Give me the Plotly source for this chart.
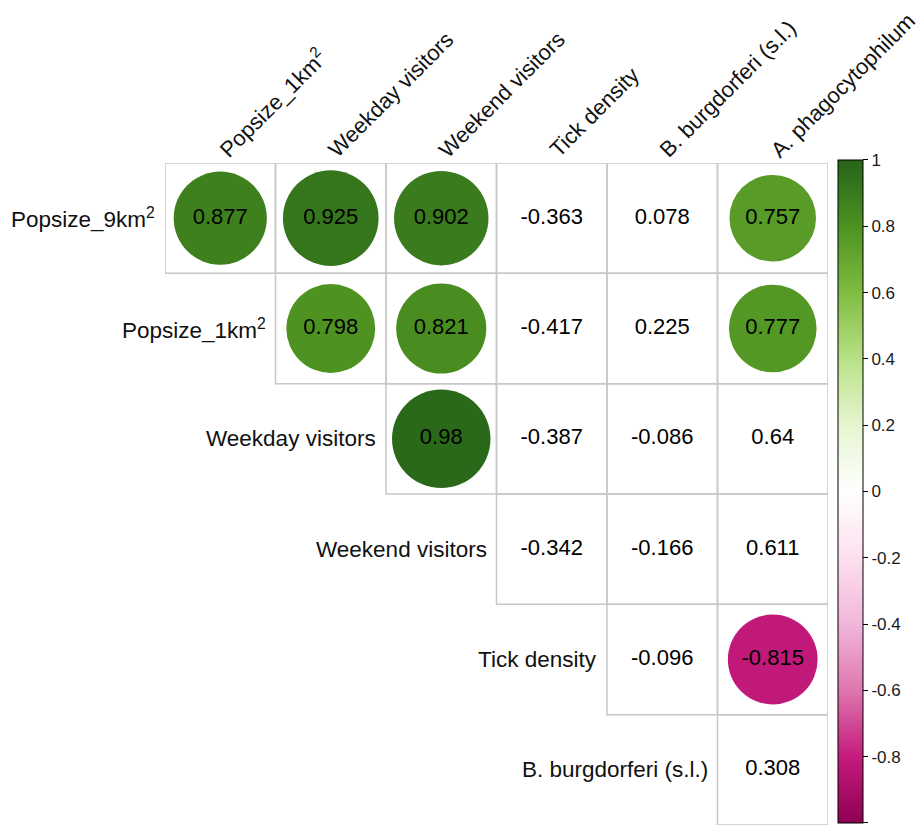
import plotly.graph_objects as go

variables = ["Popsize_9km<sup>2</sup>", "Popsize_1km<sup>2</sup>", "Weekday visitors",
             "Weekend visitors", "Tick density", "B. burgdorferi (s.l.)", "A. phagocytophilum"]
row_labels = variables[:6]
col_labels = variables[1:]

# upper-triangle correlation values (row i, columns i..5)
row0 = [0.877, 0.925, 0.902, -0.363, 0.078, 0.757]
row1 = [0.798, 0.821, -0.417, 0.225, 0.777]
row2 = [0.98, -0.387, -0.086, 0.64]
row3 = [-0.342, -0.166, 0.611]
row4 = [-0.096, -0.815]
row5 = [0.308]
values = [row0, row1, row2, row3, row4, row5]

sig0 = [1, 1, 1, 0, 0, 1]
sig1 = [1, 1, 0, 0, 1]
sig2 = [1, 0, 0, 0]
sig3 = [0, 0, 0]
sig4 = [0, 1]
sig5 = [0]
significant = [sig0, sig1, sig2, sig3, sig4, sig5]

tick_vals = [1, 0.8, 0.6, 0.4, 0.2, 0, -0.2, -0.4, -0.6, -0.8, -1]
tick_text = ["1", "0.8", "0.6", "0.4", "0.2", "0", "-0.2", "-0.4", "-0.6", "-0.8", "-1"]

piyg = [[0.0, "#8E0152"], [0.1, "#C51B7D"], [0.2, "#DE77AE"], [0.3, "#F1B6DA"],
        [0.4, "#FDE0EF"], [0.5, "#FFFFFF"], [0.6, "#E6F5D0"], [0.7, "#B8E186"],
        [0.8, "#7FBC41"], [0.9, "#4D9221"], [1.0, "#276419"]]

W, H = 921, 831
ML, MR, MT, MB = 165, 93, 163, 6
n = 6
cell_px = (W - ML - MR) / n
FONT = "Liberation Sans, Arial, sans-serif"

fig = go.Figure()

shapes = []
cx, cy, cv, ct, sx, sy, sv, ss = [], [], [], [], [], [], [], []
for i, row in enumerate(values):
    for k, v in enumerate(row):
        j = i + k
        shapes.append(dict(type="rect", xref="x", yref="y", x0=j - 0.5, x1=j + 0.5,
                           y0=i - 0.5, y1=i + 0.5, line=dict(color="#C8C8C8", width=1.5),
                           fillcolor="rgba(0,0,0,0)", layer="below"))
        cx.append(j); cy.append(i); cv.append(v); ct.append(f"{v:g}")
        if significant[i][k]:
            sx.append(j); sy.append(i); sv.append(v)
            ss.append(0.9 * abs(v) ** 0.5 * cell_px)

fig.add_trace(go.Scatter(
    x=sx, y=sy, mode="markers", hoverinfo="skip", showlegend=False,
    marker=dict(size=ss, color=sv, colorscale=piyg, cmin=-1, cmax=1, line=dict(width=0),
                opacity=1,
                colorbar=dict(x=1.015, xanchor="left", y=0.5038, yanchor="middle",
                              thickness=25, lenmode="pixels", len=663,
                              outlinecolor="black", outlinewidth=1,
                              tickvals=tick_vals, ticktext=tick_text,
                              ticks="outside", ticklen=5, tickcolor="black",
                              tickfont=dict(family=FONT, size=17, color="#1a1a1a"),
                              xpad=0, ypad=0)),
))
fig.add_trace(go.Scatter(
    x=cx, y=cy, mode="text", text=ct, hoverinfo="skip", showlegend=False,
    textfont=dict(family=FONT, size=22, color="black"),
))

annotations = []
for i, lab in enumerate(row_labels):
    annotations.append(dict(x=i - 0.5, y=i, xref="x", yref="y", text=lab, showarrow=False,
                            xanchor="right", yanchor="middle", xshift=-8,
                            font=dict(family=FONT, size=22.5, color="#111111")))
for j, lab in enumerate(col_labels):
    annotations.append(dict(x=j, y=-0.5, xref="x", yref="y", text=lab, showarrow=False,
                            xanchor="left", yanchor="bottom", textangle=-45,
                            xshift=-10, yshift=-2,
                            font=dict(family=FONT, size=22, color="#111111")))

fig.update_layout(
    width=W, height=H, margin=dict(l=ML, r=MR, t=MT, b=MB),
    paper_bgcolor="white", plot_bgcolor="white",
    xaxis=dict(range=[-0.5, 5.5], visible=False, fixedrange=True),
    yaxis=dict(range=[5.5, -0.5], visible=False, fixedrange=True),
    shapes=shapes, annotations=annotations,
)
fig.write_html("out.html")
